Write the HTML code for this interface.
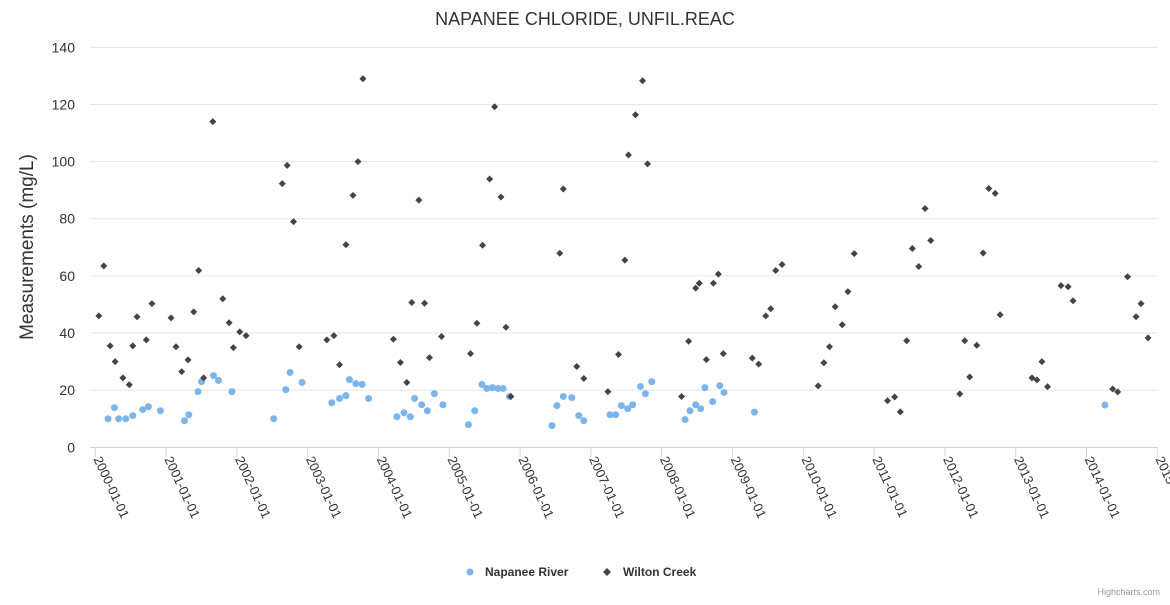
<!DOCTYPE html>
<html><head><meta charset="utf-8"><style>
body{margin:0;background:#fff;width:1170px;height:600px;overflow:hidden;font-family:"Liberation Sans",sans-serif}
</style></head><body>
<svg id="chart" width="1170" height="600" xmlns="http://www.w3.org/2000/svg" font-family="Liberation Sans, sans-serif">
<text x="585" y="25" text-anchor="middle" font-size="18" fill="#333">NAPANEE CHLORIDE, UNFIL.REAC</text>
<text transform="translate(33,247) rotate(-90)" text-anchor="middle" font-size="19" fill="#333">Measurements (mg/L)</text>
<g id="grid"></g><g id="xaxis"></g><g id="marks"></g>
<g>
<g><circle cx="470" cy="572" r="3.5" fill="#7cb5ec"/><text x="485" y="576" font-size="12" font-weight="bold" fill="#333">Napanee River</text></g>
<g><path d="M607 568 L611 572 L607 576 L603 572Z" fill="#434348"/><text x="623" y="576" font-size="12" font-weight="bold" fill="#333">Wilton Creek</text></g>
</g>
<text x="1160" y="595" text-anchor="end" font-size="9" fill="#999">Highcharts.com</text>
</svg>
<script>
const yTicks=[0,20,40,60,80,100,120,140];
const xYears=[2000,2001,2002,2003,2004,2005,2006,2007,2008,2009,2010,2011,2012,2013,2014,2015];
const napaneeX=[2000.18,2000.27,2000.33,2000.43,2000.53,2000.67,2000.75,2000.92,2001.26,2001.32,2001.45,2001.50,2001.67,2001.74,2001.93,2002.52,2002.69,2002.75,2002.92,2003.34,2003.45,2003.54,2003.59,2003.68,2003.77,2003.86,2004.26,2004.36,2004.45,2004.51,2004.61,2004.69,2004.79,2004.91,2005.27,2005.36,2005.46,2005.53,2005.61,2005.69,2005.76,2005.85,2006.45,2006.52,2006.61,2006.73,2006.83,2006.90,2007.27,2007.35,2007.43,2007.52,2007.59,2007.70,2007.77,2007.86,2008.33,2008.40,2008.48,2008.55,2008.61,2008.72,2008.82,2008.88,2009.31,2014.26];
const napaneeY=[10,13.9,10,10,11.1,13.2,14.2,12.8,9.3,11.4,19.5,23,25.1,23.4,19.5,10,20.2,26.2,22.7,15.6,17.1,18.1,23.7,22.3,22,17.1,10.7,12.1,10.7,17.1,14.9,12.8,18.8,14.9,7.9,12.8,22,20.6,20.9,20.6,20.6,17.8,7.6,14.6,17.8,17.4,11.1,9.3,11.4,11.4,14.6,13.5,14.9,21.3,18.8,23,9.7,12.8,14.9,13.5,20.9,16,21.6,19.2,12.3,14.8];
const wiltonX=[2000.05,2000.12,2000.21,2000.28,2000.39,2000.48,2000.53,2000.59,2000.72,2000.80,2001.07,2001.14,2001.22,2001.31,2001.39,2001.46,2001.53,2001.66,2001.80,2001.89,2001.95,2002.04,2002.13,2002.64,2002.71,2002.80,2002.88,2003.27,2003.37,2003.45,2003.54,2003.64,2003.71,2003.78,2004.21,2004.31,2004.40,2004.47,2004.57,2004.65,2004.72,2004.89,2005.30,2005.39,2005.47,2005.57,2005.64,2005.73,2005.80,2005.87,2006.56,2006.61,2006.80,2006.90,2007.24,2007.39,2007.48,2007.53,2007.63,2007.73,2007.80,2008.28,2008.38,2008.48,2008.53,2008.63,2008.73,2008.80,2008.87,2009.28,2009.37,2009.47,2009.54,2009.61,2009.70,2010.21,2010.29,2010.37,2010.45,2010.55,2010.63,2010.72,2011.19,2011.29,2011.37,2011.46,2011.54,2011.63,2011.72,2011.80,2012.21,2012.28,2012.35,2012.45,2012.54,2012.62,2012.71,2012.78,2013.23,2013.30,2013.37,2013.45,2013.64,2013.74,2013.81,2014.37,2014.44,2014.58,2014.70,2014.77,2014.87];
const wiltonY=[46,63.5,35.5,30,24.3,21.9,35.5,45.7,37.6,50.3,45.3,35.2,26.5,30.6,47.4,61.9,24.3,114,52,43.6,34.9,40.4,39.1,92.3,98.7,79,35.2,37.6,39.1,28.9,70.9,88.2,100,129,37.8,29.7,22.7,50.7,86.5,50.4,31.4,38.8,32.8,43.4,70.7,93.9,119.2,87.6,42,17.8,67.9,90.4,28.3,24.1,19.5,32.5,65.5,102.3,116.4,128.3,99.2,17.8,37.1,55.7,57.4,30.7,57.4,60.6,32.8,31.2,29.1,46,48.5,61.9,64,21.5,29.6,35.2,49.2,42.9,54.5,67.8,16.3,17.6,12.4,37.3,69.6,63.3,83.6,72.4,18.7,37.3,24.6,35.7,68,90.6,88.9,46.4,24.3,23.6,30,21.2,56.6,56.2,51.3,20.4,19.4,59.7,45.7,50.3,38.3];
const NS='http://www.w3.org/2000/svg';
const xs=v=>95.3+(v-2000)*70.8;
const ys=v=>447.3-v*2.857;
function mk(tag,attrs,parent){const e=document.createElementNS(NS,tag);for(const k in attrs)e.setAttribute(k,attrs[k]);parent.appendChild(e);return e;}
const grid=document.getElementById('grid'),xa=document.getElementById('xaxis'),marks=document.getElementById('marks');
yTicks.forEach(t=>{
  if(t>0){const l=mk('line',{x1:90,x2:1158,y1:ys(t),y2:ys(t),stroke:'#e6e6e6'},grid);
  
  }
  const tx=mk('text',{x:75,y:ys(t)+5,'text-anchor':'end','font-size':14,fill:'#333'},grid);
  
  
  tx.textContent=t;
});
const ax=mk('line',{x1:90,x2:1158,y1:447.5,y2:447.5,stroke:'#ccd6eb'},xa);


xYears.forEach(yr=>{
  const x=xs(yr);
  const tk=mk('line',{x1:x,x2:x,y1:447.5,y2:457,stroke:'#ccd6eb'},xa);
  
  
  const t=mk('text',{transform:`translate(${x-2},459) rotate(65)`,'font-size':13,fill:'#333'},xa);
  
  
  t.textContent=yr+'-01-01';
});
napaneeX.forEach((v,i)=>{
  const c=mk('circle',{cx:xs(v),cy:ys(napaneeY[i]),r:3.5,fill:'#7cb5ec'},marks);
  
  
});
wiltonX.forEach((v,i)=>{
  const x=xs(v),y=ys(wiltonY[i]);
  const p=mk('path',{d:`M${x} ${y-3.5}L${x+3.5} ${y}L${x} ${y+3.5}L${x-3.5} ${y}Z`,fill:'#434348'},marks);
  
  
});
</script>
</body></html>
